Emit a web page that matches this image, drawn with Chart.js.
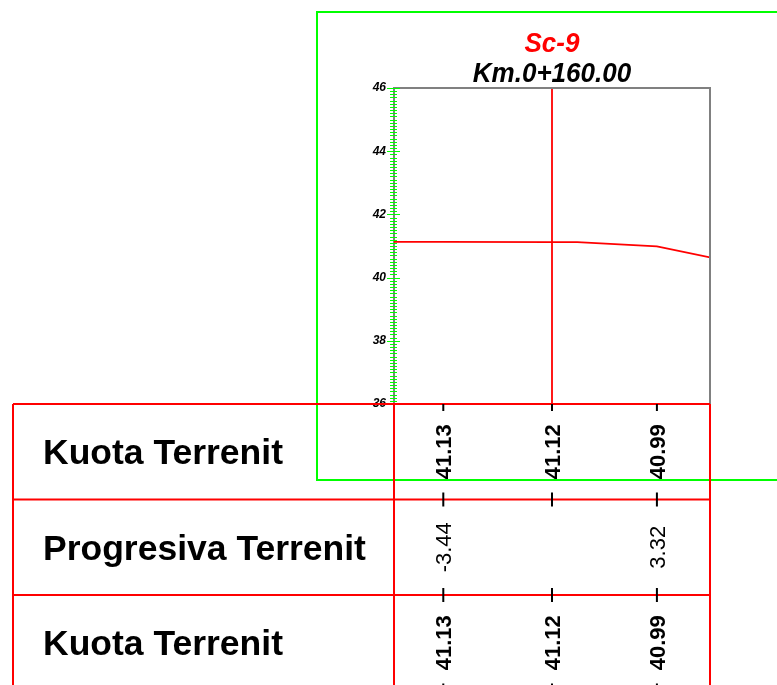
<!DOCTYPE html>
<html>
<head>
<meta charset="utf-8">
<script src="https://cdn.jsdelivr.net/npm/chart.js@4/dist/chart.umd.min.js"></script>
<style>
  html, body { margin: 0; padding: 0; background: #fff; overflow: hidden; }
  canvas { display: block; }
</style>
</head>
<body>
<canvas id="c" width="777" height="685"></canvas>
<script>
// Cross-section header
const sectionName = 'Sc-9';
const chainage = 'Km.0+160.00';

// Axis ranges (offset in m, elevation in m)
const xMin = -5, xMax = 5;
const yMin = 36, yMax = 46, yStep = 2;

// Ground profile across the section
const groundOffsets = [-5, -3.44, 0, 0.8, 3.32, 5];
const groundLevels = [41.13, 41.13, 41.12, 41.12, 40.99, 40.64];

// Stations listed in the table under the profile
const stationOffsets = [-3.44, 0, 3.32];
const stationLevels = [41.13, 41.12, 40.99];
const stationLabels = ['-3.44', '', '3.32'];
const rowTitles = ['Kuota Terrenit', 'Progresiva Terrenit', 'Kuota Terrenit'];

const FONT = '"Liberation Sans", Arial, Helvetica, sans-serif';

const sectionPlugin = {
  id: 'sectionSheet',
  beforeDraw(chart) {
    const ctx = chart.ctx;
    ctx.save();
    ctx.fillStyle = '#ffffff';
    ctx.fillRect(0, 0, chart.width, chart.height);
    // sheet frame
    ctx.strokeStyle = '#00ff00';
    ctx.lineWidth = 2;
    ctx.strokeRect(317, 12, 520, 468);
    ctx.restore();
  },
  afterDraw(chart) {
    const ctx = chart.ctx;
    const a = chart.chartArea;
    const xs = chart.scales.x, ys = chart.scales.y;
    const cx = (a.left + a.right) / 2;
    ctx.save();

    // plot frame (top and right)
    ctx.strokeStyle = '#808080';
    ctx.lineWidth = 2;
    ctx.beginPath();
    ctx.moveTo(a.left, a.top);
    ctx.lineTo(a.right, a.top);
    ctx.lineTo(a.right, a.bottom);
    ctx.stroke();

    // elevation tick marks every 0.1 m, longer at labelled values
    ctx.strokeStyle = '#00ff00';
    ctx.lineWidth = 1;
    for (let i = yMin * 10; i <= yMax * 10; i++) {
      const py = Math.round(ys.getPixelForValue(i / 10)) + 0.5;
      const major = i % (yStep * 10) === 0;
      ctx.beginPath();
      ctx.moveTo(a.left - (major ? 7 : 4), py);
      ctx.lineTo(a.left + (major ? 6 : 3), py);
      ctx.stroke();
    }

    // titles
    ctx.textAlign = 'center';
    ctx.textBaseline = 'alphabetic';
    ctx.font = 'italic bold 28px ' + FONT;
    ctx.fillStyle = '#ff0000';
    ctx.save(); ctx.translate(cx, 52); ctx.scale(0.93, 1); ctx.fillText(sectionName, 0, 0); ctx.restore();
    ctx.fillStyle = '#000000';
    ctx.save(); ctx.translate(cx, 82); ctx.scale(0.93, 1); ctx.fillText(chainage, 0, 0); ctx.restore();

    // data table
    const tTop = a.bottom;
    const rowH = 95.5;
    const rows = [tTop, tTop + rowH, tTop + 2 * rowH, tTop + 3 * rowH];
    const tLeft = 13;
    ctx.strokeStyle = '#ff0000';
    ctx.lineWidth = 2;
    ctx.beginPath();
    rows.forEach(y => { ctx.moveTo(tLeft, y); ctx.lineTo(a.right, y); });
    [tLeft, a.left, a.right].forEach(x => { ctx.moveTo(x, tTop); ctx.lineTo(x, rows[3]); });
    ctx.stroke();

    // station ticks on the row borders
    ctx.strokeStyle = '#000000';
    ctx.lineWidth = 2;
    const colX = stationOffsets.map(v => xs.getPixelForValue(v));
    colX.forEach(x => {
      ctx.beginPath();
      ctx.moveTo(x, tTop); ctx.lineTo(x, tTop + 7);
      for (let r = 1; r < rows.length; r++) {
        ctx.moveTo(x, rows[r] - 7); ctx.lineTo(x, rows[r] + 7);
      }
      ctx.stroke();
    });

    // row titles
    ctx.fillStyle = '#000000';
    ctx.textAlign = 'left';
    ctx.font = 'bold 35.5px ' + FONT;
    rowTitles.forEach((t, r) => {
      const mid = (rows[r] + rows[r + 1]) / 2;
      ctx.fillText(t, 43, mid + 12.5);
    });

    // vertical values
    const rowValues = [
      stationLevels.map(v => v.toFixed(2)),
      stationLabels,
      stationLevels.map(v => v.toFixed(2))
    ];
    const rowBold = [true, false, true];
    ctx.textAlign = 'center';
    rowValues.forEach((vals, r) => {
      const mid = (rows[r] + rows[r + 1]) / 2;
      ctx.font = (rowBold[r] ? 'bold ' : '') + '22px ' + FONT;
      vals.forEach((txt, i) => {
        if (!txt) return;
        ctx.save();
        ctx.translate(colX[i], mid);
        ctx.rotate(-Math.PI / 2);
        ctx.fillText(txt, 0, 8);
        ctx.restore();
      });
    });

    ctx.restore();
  }
};

new Chart(document.getElementById('c'), {
  type: 'line',
  data: {
    datasets: [
      {
        data: groundOffsets.map((x, i) => ({ x, y: groundLevels[i] })),
        borderColor: '#ff0000',
        borderWidth: 1.8,
        pointRadius: 0,
        tension: 0
      },
      {
        // section axis
        data: [{ x: 0, y: yMin }, { x: 0, y: yMax }],
        borderColor: '#ff0000',
        borderWidth: 1.8,
        pointRadius: 0
      }
    ]
  },
  options: {
    responsive: false,
    maintainAspectRatio: false,
    animation: false,
    events: [],
    layout: { padding: { left: 0, top: 88, right: 67, bottom: 281 } },
    plugins: { legend: { display: false }, tooltip: { enabled: false }, title: { display: false } },
    scales: {
      x: { type: 'linear', min: xMin, max: xMax, display: false },
      y: {
        min: yMin, max: yMax,
        grid: { display: false, drawTicks: false },
        border: { display: true, color: '#808080', width: 2 },
        ticks: {
          stepSize: yStep,
          padding: 8,
          color: '#000000',
          font: { family: FONT, size: 12, style: 'italic', weight: 'bold' }
        },
        afterFit(scale) { scale.width = 394; }
      }
    }
  },
  plugins: [sectionPlugin]
});
</script>
</body>
</html>
